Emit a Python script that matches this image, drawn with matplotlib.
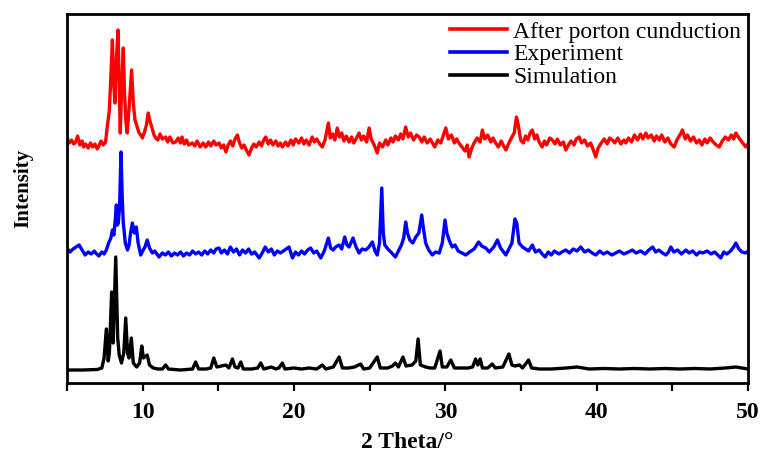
import matplotlib
matplotlib.use("Agg")
import matplotlib.pyplot as plt
from matplotlib.ticker import MultipleLocator

# ---- data (2 Theta, intensity in arbitrary offset units) ----
sim_x = [5.0, 6.0, 7.0, 7.3, 7.45, 7.6, 7.72, 7.8, 7.95, 8.05, 8.22, 8.35, 8.45, 8.6, 8.75, 8.88, 9.0, 9.1,
         9.25, 9.38, 9.6, 9.8, 9.94, 10.05, 10.3, 10.45, 10.7, 11.0, 11.3, 11.52, 11.7, 12.5, 13.3, 13.5, 13.7,
         14.2, 14.5, 14.7, 14.9, 15.2, 15.5, 15.7, 15.93, 16.1, 16.3, 16.48, 16.65, 17.2, 17.6, 17.8, 18.0,
         18.5, 18.8, 19.0, 19.23, 19.4, 20.0, 20.5, 21.0, 21.5, 21.87, 22.1, 22.6, 22.98, 23.2, 23.6, 24.0,
         24.4, 24.6, 25.0, 25.5, 25.7, 26.2, 26.5, 26.7, 26.9, 27.2, 27.4, 27.8, 28.05, 28.2, 28.35, 28.7,
         29.0, 29.3, 29.65, 29.8, 30.1, 30.36, 30.6, 31.0, 31.5, 31.8, 32.0, 32.15, 32.3, 32.45, 32.8, 33.1,
         33.3, 33.8, 34.2, 34.4, 34.6, 34.9, 35.1, 35.5, 35.7, 36.2, 37.0, 38.0, 38.7, 39.5, 40.5, 41.5, 42.5,
         43.5, 44.5, 45.5, 46.5, 47.5, 48.5, 49.2, 49.6, 50.0]
sim_y = [13, 13, 13.5, 15, 25, 54, 22, 30, 91, 40, 126, 45, 28, 20, 30, 65, 30, 25,
         45, 20, 16, 20, 37, 25, 28, 18, 15, 14, 14, 18, 14, 13, 14, 21, 14,
         14, 15, 25, 16, 17, 18, 15, 24, 16, 15, 21, 14, 14, 15, 20, 14,
         16, 14, 15, 20, 14, 15, 14, 15, 14, 18, 14, 16, 26, 15, 15, 16,
         19, 14, 15, 26, 15, 15, 17, 20, 16, 26, 17, 18, 22, 44, 18, 16,
         15, 15, 32, 16, 16, 23, 15, 15, 15, 16, 24, 18, 24, 15, 15, 19,
         15, 16, 29, 18, 17, 18, 15, 23, 15, 14, 14, 15, 16, 14, 14.5, 14, 14.5,
         14, 14.5, 14, 14.5, 14, 15, 16, 15, 14]

exp_x = [5.0, 5.2, 5.4, 5.6, 5.8, 6.0, 6.2, 6.4, 6.6, 6.8, 6.9, 7.1, 7.3, 7.45, 7.6, 7.75, 7.9, 8.0, 8.1, 8.2,
         8.26, 8.33, 8.39, 8.47, 8.57, 8.65, 8.72, 8.77, 8.85, 9.0, 9.1, 9.2, 9.32, 9.45, 9.58, 9.7, 9.87, 10.0,
         10.15, 10.3, 10.45, 10.64, 10.8, 11.08, 11.3, 11.5, 11.7, 11.9, 12.1, 12.3, 12.5, 12.7, 12.9, 13.1,
         13.3, 13.5, 13.7, 13.9, 14.1, 14.3, 14.5, 14.7, 14.85, 15.05, 15.2, 15.4, 15.6, 15.8, 16.0, 16.2,
         16.4, 16.6, 16.8, 17.0, 17.2, 17.4, 17.7, 17.9, 18.1, 18.3, 18.5, 18.7, 18.9, 19.1, 19.4, 19.67,
         19.9, 20.1, 20.3, 20.5, 20.7, 20.9, 21.1, 21.3, 21.5, 21.77, 22.0, 22.27, 22.42, 22.58, 22.75,
         22.98, 23.15, 23.35, 23.5, 23.64, 23.9, 24.1, 24.3, 24.5, 24.74, 24.95, 25.18, 25.35, 25.5, 25.65,
         25.8, 25.9, 26.0, 26.2, 26.4, 26.7, 26.9, 27.1, 27.25, 27.38, 27.5, 27.65, 27.85, 28.05, 28.25,
         28.44, 28.55, 28.7, 28.9, 29.14, 29.35, 29.6, 29.8, 29.98, 30.1, 30.25, 30.45, 30.64, 30.85, 31.1,
         31.35, 31.6, 31.9, 32.2, 32.4, 32.67, 32.9, 33.2, 33.44, 33.65, 34.0, 34.2, 34.4, 34.6, 34.72,
         34.87, 35.1, 35.3, 35.5, 35.75, 35.95, 36.2, 36.4, 36.6, 36.8, 37.0, 37.2, 37.5, 37.7, 37.96,
         38.2, 38.45, 38.7, 38.95, 39.2, 39.45, 39.7, 39.94, 40.2, 40.45, 40.7, 41.0, 41.26, 41.5, 41.8,
         42.1, 42.36, 42.6, 42.9, 43.2, 43.45, 43.7, 43.9, 44.1, 44.35, 44.57, 44.75, 44.9, 45.1, 45.35,
         45.6, 45.9, 46.1, 46.35, 46.6, 46.8, 47.0, 47.3, 47.55, 47.8, 48.0, 48.2, 48.4, 48.6, 48.85,
         49.05, 49.2, 49.4, 49.6, 49.86, 50.0]
exp_y = [135, 131, 134, 136, 138, 133, 128, 131, 129, 132, 130, 127, 131, 129, 133, 140, 145, 153, 148, 165,
         178, 158, 160, 175, 231, 185, 160, 153, 140, 133, 138, 150, 160, 150, 156, 140, 128, 132,
         136, 143, 135, 130, 132, 126, 130, 128, 131, 127, 130, 128, 131, 127, 130, 128,
         132, 129, 131, 128, 132, 129, 133, 130, 134, 135, 130, 133, 129, 136, 131, 134,
         128, 133, 130, 134, 129, 131, 125, 130, 136, 131, 134, 128, 132, 130, 133, 136,
         125, 131, 128, 132, 129, 133, 135, 130, 132, 125, 132, 145, 135, 133, 136,
         138, 134, 146, 138, 136, 145, 136, 130, 134, 133, 136, 141, 132, 128, 140,
         195, 150, 138, 134, 131, 126, 132, 138, 145, 161, 150, 143, 140, 146, 150,
         168, 155, 140, 133, 128, 131, 130, 140, 163, 150, 143, 136, 138, 132, 130,
         128, 131, 134, 141, 137, 135, 131, 136, 143, 135, 128, 134, 140, 164, 160,
         140, 136, 134, 132, 138, 131, 133, 129, 126, 131, 128, 132, 129, 131, 133,
         130, 134, 132, 136, 131, 133, 130, 128, 132, 129, 131, 128, 130, 132, 129,
         131, 133, 130, 132, 129, 133, 136, 131, 133, 130, 128, 131, 136, 131, 133,
         129, 133, 130, 132, 128, 131, 130, 132, 129, 131, 128, 125, 131, 129, 132,
         136, 140, 134, 131, 130, 132]

aft_x = [5.0, 5.15, 5.3, 5.45, 5.57, 5.7, 5.85, 6.0, 6.1, 6.23, 6.4, 6.55, 6.7, 6.85, 7.0, 7.1, 7.25, 7.4,
         7.55, 7.65, 7.8, 7.88, 8.0, 8.08, 8.17, 8.25, 8.37, 8.45, 8.52, 8.6, 8.72, 8.8, 8.9, 8.98, 9.1,
         9.27, 9.38, 9.49, 9.6, 9.76, 9.88, 9.98, 10.1, 10.25, 10.37, 10.48, 10.6, 10.75, 10.86, 11.0,
         11.15, 11.3, 11.52, 11.65, 11.8, 12.0, 12.18, 12.35, 12.5, 12.6, 12.75, 12.9, 13.05, 13.28,
         13.45, 13.6, 13.8, 14.0, 14.17, 14.35, 14.5, 14.7, 14.85, 15.05, 15.2, 15.35, 15.5, 15.65, 15.8,
         15.95, 16.1, 16.26, 16.4, 16.55, 16.7, 16.85, 17.03, 17.2, 17.35, 17.5, 17.7, 17.85, 18.0, 18.13,
         18.3, 18.45, 18.6, 18.8, 18.95, 19.1, 19.23, 19.45, 19.6, 19.8, 19.95, 20.1, 20.33, 20.5, 20.65,
         20.8, 21.0, 21.2, 21.35, 21.5, 21.7, 21.87, 22.05, 22.27, 22.4, 22.55, 22.7, 22.86, 23.0, 23.15,
         23.3, 23.45, 23.64, 23.8, 23.95, 24.1, 24.3, 24.45, 24.6, 24.8, 24.96, 25.1, 25.3, 25.5, 25.65,
         25.85, 26.06, 26.2, 26.4, 26.55, 26.7, 26.9, 27.05, 27.2, 27.38, 27.55, 27.7, 27.9, 28.1, 28.27,
         28.45, 28.6, 28.8, 29.0, 29.15, 29.3, 29.5, 29.7, 29.85, 30.03, 30.2, 30.4, 30.6, 30.75, 30.9,
         31.1, 31.3, 31.45, 31.57, 31.75, 31.9, 32.1, 32.3, 32.45, 32.6, 32.8, 33.0, 33.15, 33.33, 33.5,
         33.7, 33.85, 34.0, 34.2, 34.4, 34.55, 34.7, 34.82, 34.98, 35.15, 35.3, 35.45, 35.6, 35.75, 35.9,
         36.05, 36.2, 36.4, 36.55, 36.7, 36.9, 37.07, 37.25, 37.4, 37.6, 37.8, 37.96, 38.1, 38.3, 38.5,
         38.65, 38.84, 39.0, 39.2, 39.4, 39.6, 39.8, 39.94, 40.1, 40.3, 40.5, 40.7, 40.85, 41.04, 41.2,
         41.4, 41.6, 41.8, 41.93, 42.1, 42.3, 42.5, 42.7, 42.9, 43.05, 43.25, 43.4, 43.6, 43.8, 43.95,
         44.13, 44.3, 44.5, 44.7, 44.9, 45.12, 45.3, 45.5, 45.67, 45.85, 46.0, 46.2, 46.4, 46.6, 46.78,
         46.95, 47.15, 47.3, 47.5, 47.7, 47.9, 48.1, 48.3, 48.5, 48.7, 48.9, 49.05, 49.2, 49.4, 49.6,
         49.86, 50.0]
aft_y = [245, 240, 243, 239, 241, 247, 238, 242, 236, 239, 235, 240, 236, 239, 234, 237, 242, 238,
         241, 255, 273, 300, 343, 300, 280, 320, 353, 300, 250, 290, 335, 290, 260, 250, 275,
         313, 280, 263, 258, 250, 248, 245, 250, 258, 270, 262, 256, 248, 245, 243,
         249, 244, 246, 241, 246, 240, 241, 245, 240, 246, 239, 243, 238, 240,
         237, 242, 236, 240, 236, 241, 237, 242, 238, 240, 235, 238, 231, 238, 242,
         237, 244, 248, 240, 235, 238, 233, 228, 235, 239, 236, 241, 237, 243, 246,
         239, 243, 238, 242, 237, 240, 236, 241, 237, 243, 238, 244, 240, 245, 239,
         243, 238, 246, 241, 244, 239, 236, 243, 260, 245, 249, 243, 255, 246, 250,
         242, 247, 241, 246, 240, 244, 250, 243, 247, 241, 255, 244, 238, 230, 240,
         236, 243, 238, 245, 241, 247, 243, 249, 244, 256, 246, 250, 243, 248, 246,
         241, 246, 240, 244, 240, 236, 243, 240, 247, 255, 244, 248, 240, 244, 240,
         236, 232, 238, 226, 235, 240, 245, 241, 253, 244, 248, 241, 245, 240, 236,
         242, 237, 233, 240, 246, 250, 266, 258, 243, 240, 247, 243, 250, 253, 244,
         248, 241, 236, 242, 238, 245, 243, 239, 244, 238, 241, 233, 237, 242, 238,
         244, 246, 240, 243, 237, 240, 232, 226, 235, 240, 244, 239, 245, 243, 240,
         245, 239, 243, 240, 245, 241, 248, 243, 249, 244, 250, 245, 248, 242, 247,
         243, 248, 241, 245, 239, 236, 243, 248, 253, 244, 248, 242, 246, 240, 243,
         238, 244, 240, 245, 241, 238, 236, 242, 246, 243, 248, 244, 250, 245, 241,
         236, 239]

series_labels = ["After porton cunduction", "Experiment", "Simulation"]
series_colors = ["#ff0000", "#0000ff", "#000000"]

x_ticks = [10, 20, 30, 40, 50]

# ---- figure ----
plt.rcParams['font.family'] = ['Liberation Serif', 'DejaVu Serif']
fig = plt.figure(figsize=(7.62, 4.63), dpi=100)
ax = fig.add_axes([67 / 762, 1 - 383 / 463, (748 - 67) / 762, (383 - 14) / 463])

for xs, ys, lab, col in zip([aft_x, exp_x, sim_x], [aft_y, exp_y, sim_y], series_labels, series_colors):
    ax.plot(xs, ys, color=col, lw=2.4, label=lab, solid_joinstyle='round')

ax.set_xlim(5, 50)
ax.set_ylim(0, 369)
ax.set_xticks(x_ticks)
ax.xaxis.set_minor_locator(MultipleLocator(5))
ax.set_yticks([])
ax.tick_params(axis='x', which='both', direction='out', length=6, width=1.6, pad=8)
for lbl in ax.get_xticklabels():
    lbl.set_fontsize(17)
    lbl.set_fontweight('bold')
for sp in ax.spines.values():
    sp.set_linewidth(2.0)

ax.set_xlabel("2 Theta/°", fontsize=17, fontweight='bold', labelpad=6)
ax.set_ylabel("Intensity", fontsize=15, fontweight='bold')
ax.yaxis.set_label_coords(-0.050, 0.528)

leg = ax.legend(loc='upper right', bbox_to_anchor=(1.0, 1.0), frameon=False, fontsize=17,
                labelspacing=0.05, handlelength=2.4, handletextpad=0.25, borderaxespad=0.0,
                borderpad=0.3)
for h in leg.get_lines():
    h.set_linewidth(2.6)

fig.savefig("out.png", dpi=100)
